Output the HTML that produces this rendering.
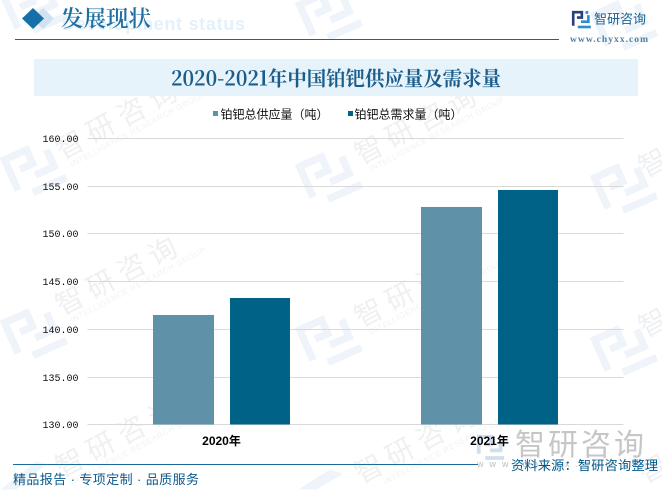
<!DOCTYPE html>
<html lang="zh-CN">
<head>
<meta charset="utf-8">
<title>2020-2021年中国铂钯供应量及需求量</title>
<style>
html,body{margin:0;padding:0;background:#fff;width:662px;height:490px;overflow:hidden}
svg{display:block;overflow:hidden}
.wm{font-family:"Noto Sans CJK SC",sans-serif;font-size:28px;letter-spacing:7px;fill:#eef0f2}
.wme{font-family:"Liberation Sans",sans-serif;font-size:8px;letter-spacing:.6px;fill:#f0f2f4}
.tick{font-family:"Liberation Mono","Noto Sans CJK SC",monospace;font-size:10px;fill:#111;text-anchor:end}
.leg{font-family:"Liberation Sans","WenQuanYi Zen Hei",sans-serif;font-size:12px;fill:#111}
.cat{font-family:"Liberation Sans","Noto Sans CJK SC",sans-serif;font-size:12px;font-weight:bold;fill:#000;text-anchor:middle}
</style>
</head>
<body>
<svg id="chart" xmlns="http://www.w3.org/2000/svg" width="662" height="490" viewBox="0 0 662 490">
<defs>
<g id="wm-logo" fill="none" stroke-width="3.2">
<polyline points="1.5,16 1.5,1.5 12,1.5 12,8 6,8"/>
<polyline points="20,5 20,13 11,13"/>
<polyline points="7,19.5 23,19.5"/>
<rect x="0" y="18.5" width="3.2" height="3.2" stroke="none"/>
<rect x="16.5" y="0" width="3.4" height="3.4" stroke="none"/>
</g>
</defs>
<rect width="662" height="490" fill="#fff"/>

<g id="watermarks">
<g stroke="#eef4f9" fill="#eef4f9">
<use href="#wm-logo" transform="translate(0,-4) rotate(-24) scale(2.3)"/>
<use href="#wm-logo" transform="translate(295,3) rotate(-24) scale(2.3)"/>
<use href="#wm-logo" transform="translate(590,13) rotate(-24) scale(2.3)"/>
<use href="#wm-logo" transform="translate(0,158) rotate(-24) scale(2.3)"/>
<use href="#wm-logo" transform="translate(295,165) rotate(-24) scale(2.3)"/>
<use href="#wm-logo" transform="translate(590,176) rotate(-24) scale(2.3)"/>
<use href="#wm-logo" transform="translate(0,321) rotate(-24) scale(2.3)"/>
<use href="#wm-logo" transform="translate(295,328) rotate(-24) scale(2.3)"/>
<use href="#wm-logo" transform="translate(590,338) rotate(-24) scale(2.3)"/>
<polygon points="2,489 36,462 46,464 16,489"/>
<polygon points="300,489 330,470 342,474 316,489"/>
</g>
<text class="wm" transform="translate(62,160) rotate(-28)">智研咨询</text>
<text class="wme" transform="translate(72,167) rotate(-28)">INTELLIGENCE RESEARCH GROUP</text>
<text class="wm" transform="translate(62,316) rotate(-28)">智研咨询</text>
<text class="wme" transform="translate(72,323) rotate(-28)">INTELLIGENCE RESEARCH GROUP</text>
<text class="wm" transform="translate(62,478) rotate(-28)">智研咨询</text>
<text class="wme" transform="translate(72,485) rotate(-28)">INTELLIGENCE RESEARCH GROUP</text>
<text class="wm" transform="translate(361,165) rotate(-28)">智研咨询</text>
<text class="wme" transform="translate(371,172) rotate(-28)">INTELLIGENCE RESEARCH GROUP</text>
<text class="wm" transform="translate(361,328) rotate(-28)">智研咨询</text>
<text class="wme" transform="translate(371,335) rotate(-28)">INTELLIGENCE RESEARCH GROUP</text>
<text class="wm" transform="translate(361,484) rotate(-28)">智研咨询</text>
<text class="wme" transform="translate(385,485) rotate(-28)">INTELLIGENCE RESEARCH GROUP</text>
<text class="wm" transform="translate(645,178) rotate(-28)">智</text>
<text class="wm" transform="translate(645,338) rotate(-28)">智</text>
<text class="wm" transform="translate(645,484) rotate(-28)">智</text>
</g>

<text x="62" y="30" font-family="'Liberation Sans',sans-serif" font-weight="bold" font-size="18" letter-spacing="1" fill="#e3f1fb" textLength="184">Development status</text>
<polygon points="43,8 54,18.5 43,29 32,18.5" fill="#cfe2ef"/>
<polygon points="33,8 44,18.5 33,29 22,18.5" fill="#156fa8"/>
<text x="61" y="26.5" font-family="'Liberation Serif','Noto Serif CJK SC',serif" font-size="22.5" font-weight="600" fill="#1f6fa3">发展现状</text>
<rect x="15" y="39" width="544" height="1" fill="#1b6592"/>

<g transform="translate(572,11) scale(0.82)">
<polyline points="1.5,18 1.5,1.5 12,1.5 12,8 6,8" fill="none" stroke="#27407f" stroke-width="3.2"/>
<polyline points="20,5 20,13 11,13" fill="none" stroke="#2a8fd0" stroke-width="3.2"/>
<polyline points="7,19.5 23,19.5" fill="none" stroke="#2a8fd0" stroke-width="3.2"/>
<rect x="16.5" y="0" width="3.4" height="3.4" fill="#2a8fd0"/>
</g>
<text x="594" y="23.5" font-family="'Liberation Sans','Noto Sans CJK SC',sans-serif" font-size="13" fill="#1a6090">智研咨询</text>
<text x="570" y="42" font-family="'Liberation Serif',serif" font-weight="bold" font-size="9.5" fill="#4d7fa3" textLength="78">www.chyxx.com</text>

<rect x="34" y="59" width="604" height="37" fill="#e6f3fb"/>
<text x="171" y="85.5" font-family="'Noto Serif CJK SC',serif" font-size="20" font-weight="700" fill="#1a5c8a" textLength="330" lengthAdjust="spacingAndGlyphs">2020-2021年中国铂钯供应量及需求量</text>

<g id="legend">
<g>
<rect x="213" y="111" width="5" height="5" fill="#5f91a8"/>
<text class="leg" x="220.5" y="118.5" textLength="108">铂钯总供应量（吨）</text>
</g>
<g>
<rect x="348" y="111" width="5" height="5" fill="#006286"/>
<text class="leg" x="354.5" y="118.5" textLength="108">铂钯总需求量（吨）</text>
</g>
</g>

<g id="plot"></g>

<g>
<g transform="translate(477,435) scale(1.18)" stroke="#cfdfee" fill="#cfdfee"><use href="#wm-logo"/></g>
<text x="515" y="455" font-family="'Noto Sans CJK SC',sans-serif" font-size="30" letter-spacing="3" fill="#c6c6c6">智研咨询</text>
<text x="477" y="467" font-family="'Liberation Sans',sans-serif" font-size="9" letter-spacing="6" fill="#bdbdbd">www.chyxx.com</text>
</g>
<text id="cat-overlay"></text>

<rect x="13" y="464" width="465" height="1" fill="#1b6a9a"/>
<text x="13" y="484" font-family="'Liberation Sans','Noto Sans CJK SC',sans-serif" font-size="13" fill="#0a5a8c" textLength="186">精品报告 · 专项定制 · 品质服务</text>
<text x="511" y="470" font-family="'Liberation Sans','Noto Sans CJK SC',sans-serif" font-size="13.2" fill="#00598c" textLength="147">资料来源：智研咨询整理</text>
</svg>

<script>
const categories = ["2020年", "2021年"];
const supplyValues = [141.51, 152.82];
const demandValues = [143.29, 154.60];
const tickValues = [130, 135, 140, 145, 150, 155, 160];
const tickLabels = ["130.00", "135.00", "140.00", "145.00", "150.00", "155.00", "160.00"];

const svgNS = "http://www.w3.org/2000/svg";
const plot = document.getElementById("plot");
const plotLeft = 87.5, plotRight = 623.5, plotBase = 424.9, unitPx = 9.55;

function yScale(v) { return plotBase - (v - tickValues[0]) * unitPx; }
function gridY(v) { return Math.floor(yScale(v)) + 0.5; }
function bandCenter(i) { const band = (plotRight - plotLeft) / categories.length; return plotLeft + band * (i + 0.5); }
function make(tag, attrs) {
  const el = document.createElementNS(svgNS, tag);
  for (const k in attrs) el.setAttribute(k, attrs[k]);
  return el;
}

tickValues.forEach(function (v, i) {
  const py = gridY(v);
  const line = make("line", { x1: plotLeft, x2: plotRight, y1: py, y2: py, stroke: "#d9d9d9", "stroke-width": 1 });
  
  
  plot.appendChild(line);
  const label = make("text", { x: 78.5, y: py + 3.5, class: "tick" });
  
  
  label.textContent = tickLabels[i];
  plot.appendChild(label);
});

categories.forEach(function (c, i) {
  const cx = bandCenter(i);
  const baseY = gridY(tickValues[0]);
  const s = make("rect", { x: cx - 68.5, y: yScale(supplyValues[i]), width: 61, height: baseY - yScale(supplyValues[i]), fill: "#5f91a8" });
  
  
  plot.appendChild(s);
  const d = make("rect", { x: cx + 8.5, y: yScale(demandValues[i]), width: 60, height: baseY - yScale(demandValues[i]), fill: "#006286" });
  
  
  plot.appendChild(d);
});

const chartSvg = document.getElementById("chart");
const catAnchor = document.getElementById("cat-overlay");
categories.forEach(function (c, i) {
  const t = make("text", { x: bandCenter(i), y: 445, class: "cat" });
  
  
  t.textContent = c;
  chartSvg.insertBefore(t, catAnchor);
});
</script>
</body>
</html>
